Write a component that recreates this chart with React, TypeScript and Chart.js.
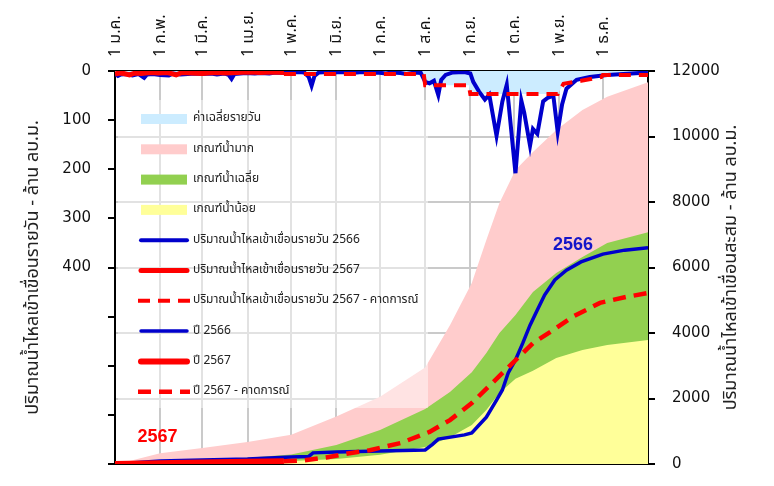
import React, { useEffect, useRef } from "react";
import { Chart, registerables } from "chart.js";

Chart.register(...registerables);

const FONT = "'Noto Sans Thai', Tahoma, 'DejaVu Sans', sans-serif";
const NUM_FONT = "'DejaVu Sans', sans-serif";

// x axis: day of year (2567 = leap year), ticks at month starts
const MONTH_DAYS = [0, 31, 60, 91, 121, 152, 182, 213, 244, 274, 305, 335];
const MONTH_LABELS = ["1 ม.ค.", "1 ก.พ.", "1 มี.ค.", "1 เม.ย.", "1 พ.ค.", "1 มิ.ย.", "1 ก.ค.", "1 ส.ค.", "1 ก.ย.", "1 ต.ค.", "1 พ.ย.", "1 ธ.ค."];
const X_MAX = 366;

// left axis (daily, reversed)
const LEFT_MAX = 800;
const LEFT_STEP = 100;
const LEFT_LABEL_MAX = 400;
// right axis (cumulative)
const RIGHT_MAX = 12000;
const RIGHT_STEP = 2000;

// daily average (left axis)
const AVG_DAILY_DAY = [0, 31, 60, 91, 121, 152, 182, 212, 213, 243, 244, 304, 308, 320, 334, 335, 366];
const AVG_DAILY_VAL = [5, 5, 4, 4, 5, 6, 6, 6, 29, 29, 47, 47, 26, 20, 12, 8, 8];

// criteria curves (right axis, cumulative)
const CRIT_DAY = [0, 10, 31, 60, 91, 121, 152, 182, 213, 230, 245, 255, 264, 275, 287, 303, 321, 338, 366];
const HIGH_VAL = [0, 90, 330, 490, 670, 890, 1450, 2050, 2950, 4240, 5530, 6840, 7970, 8980, 9530, 10200, 10810, 11210, 11660];
const MID_VAL = [0, 20, 60, 120, 190, 290, 580, 1040, 1680, 2200, 2800, 3390, 4000, 4550, 5250, 5830, 6320, 6750, 7080];
const LOW_VAL = [0, 7, 20, 40, 60, 90, 150, 280, 520, 820, 1190, 1650, 2170, 2600, 2850, 3240, 3480, 3630, 3790];

// daily inflow 2566 (left axis)
const D2566_DAY = [0, 2, 4, 8, 12, 16, 20, 22, 26, 31, 37, 40, 45, 50, 55, 60, 66, 70, 75, 78, 80, 82, 86, 90, 96, 100, 106, 110, 116, 120, 126, 130, 133, 135, 137, 140, 146, 150, 156, 160, 166, 170, 176, 180, 186, 190, 196, 200, 206, 210, 213, 216, 219, 222, 224, 227, 232, 240, 244, 246, 250, 254, 257, 262, 266, 269, 275, 279, 281, 285, 287, 290, 294, 297, 301, 304, 307, 310, 317, 326, 338, 349, 366];
const D2566_VAL = [6, 10, 7, 6, 9, 6, 14, 7, 6, 8, 9, 5, 7, 6, 5, 6, 5, 7, 5, 8, 16, 6, 5, 4, 5, 4, 5, 3, 4, 3, 2, 3, 12, 30, 10, 3, 2, 3, 2, 4, 3, 2, 4, 3, 5, 3, 4, 6, 3, 4, 22, 25, 20, 49, 18, 8, 3, 2, 5, 22, 42, 58, 48, 132, 62, 28, 208, 60, 85, 152, 118, 128, 62, 55, 50, 124, 68, 36, 18, 12, 8, 6, 3];

// daily inflow 2567 actual (left axis)
const D2567_DAY = [0, 3, 6, 10, 14, 18, 24, 30, 36, 42, 46, 52, 60, 68, 76, 84, 92, 100, 108, 116];
const D2567_VAL = [6, 4, 5, 8, 4, 5, 3, 4, 3, 8, 3, 4, 5, 3, 4, 3, 2, 3, 2, 3];

// daily inflow 2567 forecast (left axis)
const D2567F_DAY = [116, 212, 213, 243, 244, 304, 308, 320, 334, 335, 366];
const D2567F_VAL = [6, 6, 29, 29, 47, 47, 26, 20, 12, 8, 8];

// cumulative 2566 (right axis)
const C2566_DAY = [0, 31, 60, 91, 121, 133, 136, 152, 182, 213, 218, 222, 240, 245, 250, 255, 262, 266, 270, 275, 280, 285, 290, 295, 302, 310, 320, 335, 350, 366];
const C2566_VAL = [0, 90, 120, 150, 210, 230, 340, 370, 400, 430, 600, 760, 890, 950, 1190, 1430, 1950, 2260, 2780, 3180, 3690, 4240, 4700, 5160, 5620, 5920, 6170, 6410, 6530, 6600];

// cumulative 2567 actual (right axis)
const C2567_DAY = [0, 30, 60, 90, 116];
const C2567_VAL = [0, 25, 45, 65, 85];

// cumulative 2567 forecast (right axis)
const C2567F_DAY = [116, 130, 145, 160, 175, 196, 216, 230, 245, 259, 273, 287, 301, 314, 333, 351, 366];
const C2567F_VAL = [85, 110, 200, 320, 420, 640, 980, 1340, 1860, 2470, 3080, 3690, 4090, 4490, 4920, 5100, 5220];

const LEFT_TITLE = "ปริมาณน้ำไหลเข้าเขื่อนรายวัน - ล้าน ลบ.ม.";
const RIGHT_TITLE = "ปริมาณน้ำไหลเข้าเขื่อนสะสม - ล้าน ลบ.ม.";

// text notes on the chart
const NOTE_TEXT = ["2566", "2567"];
const NOTE_DAY = [314.5, 29.2];
const NOTE_VAL = [6690, 824];
const NOTE_COLOR = ["#1515C8", "#FF0000"];

const BLUE = "#0000CC";
const RED = "#FF0000";

const toXY = (xs: number[], ys: number[]) => xs.map((x, i) => ({ x, y: ys[i] }));

const legendPlugin = {
  id: "boxLegend",
  afterDatasetsDraw(chart: any) {
    const { ctx, chartArea } = chart;
    const L = chartArea.left;
    const T = chartArea.top;
    ctx.save();
    ctx.fillStyle = "rgba(255,255,255,0.45)";
    ctx.fillRect(L + 3, T + 29, 310, 308);
    chart.data.datasets.forEach((ds: any, i: number) => {
      const cy = T + 48 + i * 30.3;
      if (ds.fill) {
        ctx.fillStyle = ds.backgroundColor;
        ctx.fillRect(L + 26, cy - 5, 46, 10);
      } else {
        ctx.beginPath();
        ctx.strokeStyle = ds.borderColor;
        ctx.lineWidth = ds.borderWidth;
        ctx.lineCap = ds.borderDash ? "butt" : "round";
        ctx.setLineDash(ds.borderDash || []);
        ctx.moveTo(L + (ds.borderDash ? 23 : 26), cy);
        ctx.lineTo(L + (ds.borderDash ? 75 : 72), cy);
        ctx.stroke();
        ctx.setLineDash([]);
      }
      ctx.fillStyle = "#222";
      ctx.font = `12px ${FONT}`;
      ctx.textAlign = "left";
      ctx.textBaseline = "middle";
      ctx.fillText(ds.label, L + 78, cy);
    });
    ctx.restore();
  },
  afterDraw(chart: any) {
    const { ctx, chartArea, scales } = chart;
    ctx.save();
    NOTE_TEXT.forEach((t, i) => {
      ctx.fillStyle = NOTE_COLOR[i];
      ctx.font = "bold 18px 'Liberation Sans', Arial, sans-serif";
      ctx.textAlign = "center";
      ctx.textBaseline = "middle";
      ctx.fillText(t, scales.x.getPixelForValue(NOTE_DAY[i]), scales.yR.getPixelForValue(NOTE_VAL[i]));
    });
    // right axis title (reads bottom to top)
    ctx.translate(chart.width - 34, (chartArea.top + chartArea.bottom) / 2);
    ctx.rotate(-Math.PI / 2);
    ctx.fillStyle = "#222";
    ctx.font = `18px ${FONT}`;
    ctx.textAlign = "center";
    ctx.textBaseline = "middle";
    ctx.fillText(RIGHT_TITLE, 0, 0);
    ctx.restore();
  },
};

export default function App() {
  const ref = useRef<HTMLCanvasElement | null>(null);
  useEffect(() => {
    if (!ref.current) return;
    Chart.defaults.font.family = FONT;
    const line = (label: string, xs: number[], ys: number[], axis: string, color: string, width: number, order: number, dash?: number[]) => ({
      label,
      data: toXY(xs, ys),
      yAxisID: axis,
      borderColor: color,
      backgroundColor: color,
      borderWidth: width,
      borderDash: dash,
      pointRadius: 0,
      fill: false,
      tension: 0,
      order,
    });
    const area = (label: string, xs: number[], ys: number[], axis: string, color: string, order: number) => ({
      label,
      data: toXY(xs, ys),
      yAxisID: axis,
      borderColor: "rgba(0,0,0,0)",
      backgroundColor: color,
      borderWidth: 0,
      pointRadius: 0,
      fill: "origin",
      tension: 0,
      order,
    });
    const noPad = (s: any) => {
      s.paddingTop = 0;
      s.paddingBottom = 0;
      s.paddingLeft = 0;
      s.paddingRight = 0;
    };
    const chart = new Chart(ref.current, {
      type: "line",
      data: {
        datasets: [
          area("ค่าเฉลี่ยรายวัน", AVG_DAILY_DAY, AVG_DAILY_VAL, "yL", "#CCECFF", 7),
          area("เกณฑ์น้ำมาก", CRIT_DAY, HIGH_VAL, "yR", "#FFCCCC", 10),
          area("เกณฑ์น้ำเฉลี่ย", CRIT_DAY, MID_VAL, "yR", "#92D050", 9),
          area("เกณฑ์น้ำน้อย", CRIT_DAY, LOW_VAL, "yR", "#FFFF99", 8),
          line("ปริมาณน้ำไหลเข้าเขื่อนรายวัน 2566", D2566_DAY, D2566_VAL, "yL", BLUE, 4, 6),
          line("ปริมาณน้ำไหลเข้าเขื่อนรายวัน 2567", D2567_DAY, D2567_VAL, "yL", RED, 5, 4),
          line("ปริมาณน้ำไหลเข้าเขื่อนรายวัน 2567 - คาดการณ์", D2567F_DAY, D2567F_VAL, "yL", RED, 4, 5, [12, 8]),
          line("ปี 2566", C2566_DAY, C2566_VAL, "yR", BLUE, 3.5, 3),
          line("ปี 2567", C2567_DAY, C2567_VAL, "yR", RED, 6, 1),
          line("ปี 2567 - คาดการณ์", C2567F_DAY, C2567F_VAL, "yR", RED, 4.5, 2, [13, 8]),
        ] as any,
      },
      options: {
        animation: false,
        responsive: true,
        maintainAspectRatio: false,
        layout: { padding: 0, autoPadding: false },
        plugins: { legend: { display: false }, tooltip: { enabled: false }, title: { display: false } },
        scales: {
          x: {
            type: "linear",
            position: "top",
            min: 0,
            max: X_MAX,
            afterBuildTicks: (axis: any) => {
              axis.ticks = MONTH_DAYS.map((v) => ({ value: v }));
            },
            afterFit: (s: any) => {
              s.height = 63;
              noPad(s);
            },
            ticks: {
              autoSkip: false,
              minRotation: 90,
              maxRotation: 90,
              padding: 14,
              labelOffset: 21,
              color: "#111",
              font: { size: 16, family: FONT },
              callback: (v: any) => {
                const i = MONTH_DAYS.indexOf(Number(v));
                return i >= 0 ? MONTH_LABELS[i] : "";
              },
            },
            grid: { color: "#CACACA", lineWidth: 2, drawTicks: false },
            border: { color: "#000", width: 2 },
          },
          xb: {
            type: "linear",
            position: "bottom",
            min: 0,
            max: X_MAX,
            afterFit: (s: any) => {
              s.height = 14;
              noPad(s);
            },
            ticks: { display: false },
            grid: { drawOnChartArea: false, drawTicks: false },
            border: { color: "#000", width: 2 },
          },
          yL: {
            type: "linear",
            position: "left",
            reverse: true,
            min: 0,
            max: LEFT_MAX,
            afterFit: (s: any) => {
              s.width = 107;
              noPad(s);
            },
            ticks: {
              stepSize: LEFT_STEP,
              padding: 17,
              color: "#111",
              font: { size: 15, family: NUM_FONT },
              callback: (v: any) => (Number(v) <= LEFT_LABEL_MAX ? String(v) : ""),
            },
            grid: { drawOnChartArea: false, color: "#000", tickLength: 7, lineWidth: 2 },
            border: { color: "#000", width: 2 },
            title: {
              display: true,
              text: LEFT_TITLE,
              color: "#222",
              font: { size: 18, family: FONT },
              padding: { top: 16, bottom: 0 },
            },
          },
          yR: {
            type: "linear",
            position: "right",
            min: 0,
            max: RIGHT_MAX,
            afterFit: (s: any) => {
              s.width = 118;
              noPad(s);
            },
            ticks: {
              stepSize: RIGHT_STEP,
              padding: 17,
              color: "#111",
              font: { size: 15, family: NUM_FONT },
              callback: (v: any) => String(v),
            },
            grid: { color: "#CACACA", lineWidth: 2, tickColor: "#000", tickLength: 7, tickWidth: 2 },
            border: { color: "#000", width: 2 },
          },
        },
      } as any,
      plugins: [legendPlugin],
    });
    return () => chart.destroy();
  }, []);
  return (
    <div style={{ position: "relative", width: 758, height: 470 }}>
      <canvas ref={ref} />
    </div>
  );
}
